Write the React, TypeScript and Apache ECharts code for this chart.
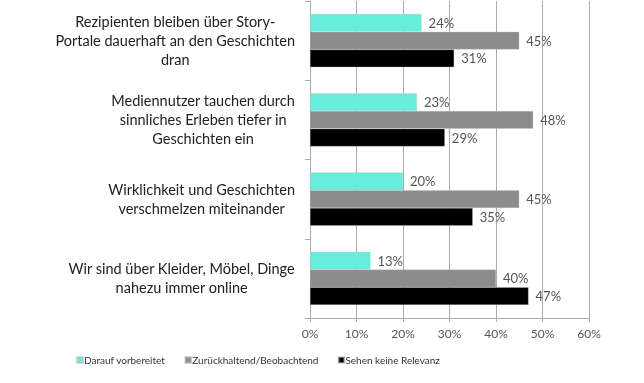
import React, { useEffect, useRef } from "react";
import * as echarts from "echarts";

const categories = [
  "Rezipienten bleiben über Story-\nPortale dauerhaft an den Geschichten\ndran",
  "Mediennutzer tauchen durch\nsinnliches Erleben tiefer in\nGeschichten ein",
  "Wirklichkeit und Geschichten\nverschmelzen miteinander",
  "Wir sind über Kleider, Möbel, Dinge\nnahezu immer online",
];
const seriesNames = ["Darauf vorbereitet", "Zurückhaltend/Beobachtend", "Sehen keine Relevanz"];
const vorbereitet = [24, 23, 20, 13];
const zurueckhaltend = [45, 48, 45, 40];
const keineRelevanz = [31, 29, 35, 47];
const colors = ["#66EEDC", "#8C8C8C", "#000000"];

const FONT = "Lato, 'DejaVu Sans', sans-serif";

export default function App() {
  const ref = useRef<HTMLDivElement>(null);
  useEffect(() => {
    if (!ref.current) return;
    const chart = echarts.init(ref.current, null, { renderer: "svg" });
    const values = [vorbereitet, zurueckhaltend, keineRelevanz];
    chart.setOption({
      animation: false,
      textStyle: { fontFamily: FONT },
      grid: { left: 310, right: 55, top: 1, bottom: 65, containLabel: false },
      legend: {
        left: 76,
        top: 355,
        icon: "rect",
        itemWidth: 6,
        itemHeight: 6,
        itemGap: 19,
        padding: 0,
        textStyle: { fontSize: 10, color: "#333", fontFamily: FONT, padding: [0, 0, 0, -4] },
        data: seriesNames,
      },
      xAxis: {
        type: "value",
        min: 0,
        max: 60,
        interval: 10,
        axisLine: { show: true, lineStyle: { color: "#aaa" } },
        axisTick: { show: true, length: 4, lineStyle: { color: "#aaa" } },
        splitLine: { show: true, lineStyle: { color: "#aaa", width: 1 } },
        axisLabel: { formatter: "{value}%", fontSize: 12, color: "#555", margin: 9, fontFamily: FONT },
      },
      yAxis: {
        type: "category",
        inverse: true,
        data: categories,
        axisLine: { show: true, lineStyle: { color: "#aaa" } },
        axisTick: { show: true, length: 5, lineStyle: { color: "#aaa" } },
        axisLabel: {
          margin: 15,
          align: "right",
          formatter: (v: string) => v.split("\n").map((l) => `{c|${l}}`).join("\n"),
          rich: {
            c: { align: "center", fontSize: 14.5, lineHeight: 19, color: "#222", fontFamily: FONT },
          },
        },
      },
      series: values.map((d, i) => ({
        name: seriesNames[i],
        type: "bar",
        data: d,
        barGap: "0%",
        barCategoryGap: "33%",
        itemStyle: { color: colors[i], borderColor: "rgba(190,190,190,0.6)", borderWidth: 0.5 },
        label: {
          show: true,
          position: "right",
          distance: 7,
          formatter: "{c}%",
          fontSize: 13,
          color: "#555",
          fontFamily: FONT,
        },
      })),
    });
    return () => chart.dispose();
  }, []);
  return <div ref={ref} style={{ position: "fixed", left: 0, top: 0, width: 644, height: 383 }} />;
}
